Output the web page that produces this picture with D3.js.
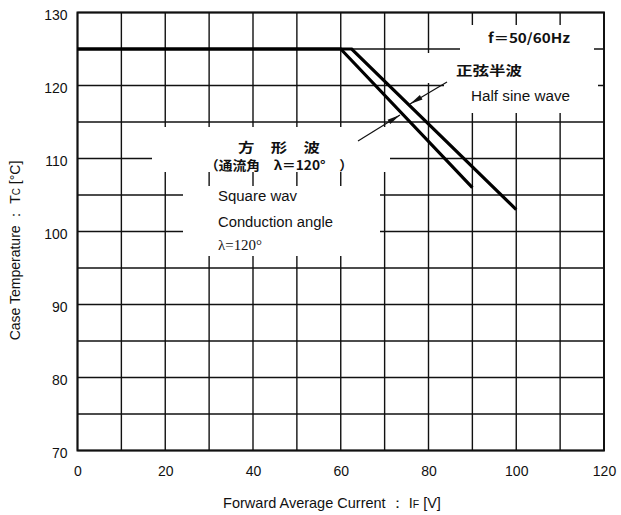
<!DOCTYPE html>
<html><head><meta charset="utf-8">
<script src="https://cdn.jsdelivr.net/npm/d3@7"></script>
<style>body{margin:0;background:#fff}svg{display:block}</style>
</head><body><svg id="c" width="621" height="515"></svg>
<script>
// ---- data ----
const xTickValues = [0, 20, 40, 60, 80, 100, 120];
const yTickValues = [70, 80, 90, 100, 110, 120, 130];
const xGridValues = [0, 10, 20, 30, 40, 50, 60, 70, 80, 90, 100, 110, 120];
const yGridValues = [70, 75, 80, 85, 90, 95, 100, 105, 110, 115, 120, 125, 130];
const squareCurrent = [0, 60, 90];
const squareTemp = [125, 125, 106];
const sineCurrent = [0, 62.5, 100];
const sineTemp = [125, 125, 103];

const svg = d3.select('#c');
const x = d3.scaleLinear().domain([0, 120]).range([77.5, 604]);
const y = d3.scaleLinear().domain([70, 130]).range([450.5, 12.5]);
const ink = '#111';
const sans = '"Liberation Sans", Arial, sans-serif';
const cjk = '"Noto Sans CJK JP", sans-serif';

// grid
const g = svg.append('g');
g.selectAll('.vg').data(xGridValues).join('line')
  .attr('x1', d => x(d)).attr('x2', d => x(d)).attr('y1', y(130)).attr('y2', y(70))
  .attr('stroke', ink).attr('stroke-width', 1.4);
g.selectAll('.hg').data(yGridValues).join('line')
  .attr('y1', d => y(d)).attr('y2', d => y(d)).attr('x1', x(0)).attr('x2', x(120))
  .attr('stroke', ink).attr('stroke-width', 1.4);

// white label boxes (cover grid)
const boxes = [
  [152, 127, 390, 172],
  [183, 186, 380, 256],
  [460, 25, 594, 53],
  [426, 53, 598, 83],
  [444, 83, 598, 113]
];
svg.append('g').selectAll('rect').data(boxes).join('rect')
  .attr('x', d => d[0]).attr('y', d => d[1])
  .attr('width', d => d[2] - d[0]).attr('height', d => d[3] - d[1])
  .attr('fill', '#fff');

// border
svg.append('rect').attr('x', x(0)).attr('y', y(130))
  .attr('width', x(120) - x(0)).attr('height', y(70) - y(130))
  .attr('fill', 'none').attr('stroke', ink).attr('stroke-width', 2);

// axes tick labels via d3 axes
const xAxis = svg.append('g').attr('transform', `translate(0,${y(70)})`)
  .call(d3.axisBottom(x).tickValues(xTickValues).tickSize(0).tickPadding(16));
xAxis.select('.domain').remove();
xAxis.selectAll('text').attr('font-family', sans).attr('font-size', 14).attr('fill', '#111');

const yAxis = svg.append('g').attr('transform', `translate(${x(0)},0)`)
  .call(d3.axisLeft(y).tickValues(yTickValues).tickSize(0).tickPadding(10));
yAxis.select('.domain').remove();
yAxis.selectAll('text').attr('font-family', sans).attr('font-size', 14).attr('fill', '#111').attr('dy', '0.5em');

// curves
const line = d3.line().x(d => x(d[0])).y(d => y(d[1]));
const squarePts = squareCurrent.map((c, i) => [c, squareTemp[i]]);
const sinePts = sineCurrent.map((c, i) => [c, sineTemp[i]]);
svg.append('path').attr('d', line(squarePts)).attr('fill', 'none')
  .attr('stroke', '#000').attr('stroke-width', 3.2);
svg.append('path').attr('d', line(sinePts)).attr('fill', 'none')
  .attr('stroke', '#000').attr('stroke-width', 3.2);

// arrows
function arrow(x1, y1, x2, y2) {
  svg.append('line').attr('x1', x1).attr('y1', y1).attr('x2', x2).attr('y2', y2)
    .attr('stroke', ink).attr('stroke-width', 1.2);
  const a = Math.atan2(y2 - y1, x2 - x1), L = 13, W = 2.6;
  const bx = x2 - L * Math.cos(a), by = y2 - L * Math.sin(a);
  const px = -Math.sin(a) * W, py = Math.cos(a) * W;
  svg.append('path').attr('d', `M${x2},${y2}L${bx + px},${by + py}L${bx - px},${by - py}Z`).attr('fill', ink);
}
arrow(447, 82, 410, 104);
arrow(358, 141, 400, 115);

// annotation texts
function txt(t, xx, yy, opts) {
  const e = svg.append('text').attr('x', xx).attr('y', yy).text(t)
    .attr('font-family', opts.ff || sans).attr('font-size', opts.fs || 14)
    .attr('fill', '#111');
  if (opts.fw) e.attr('font-weight', opts.fw);
  if (opts.tl) e.attr('textLength', opts.tl).attr('lengthAdjust', 'spacingAndGlyphs');
  if (opts.anchor) e.attr('text-anchor', opts.anchor);
  return e;
}
txt('f＝50/60Hz', 488, 43, {ff: cjk, fs: 13, fw: 700, tl: 82});
txt('正弦半波', 456, 75, {ff: cjk, fs: 13, fw: 700, tl: 66});
txt('Half sine wave', 471, 101, {fs: 14, tl: 99});
txt('方　形　波', 238, 152, {ff: cjk, fs: 13, fw: 700, tl: 82});
txt('（通流角　λ＝120°　）', 205, 170, {ff: cjk, fs: 13, fw: 700, tl: 148});
txt('Square wav', 218, 201, {fs: 14, tl: 79});
txt('Conduction angle', 218, 227, {fs: 14, tl: 115});
txt('λ=120°', 218, 250, {ff: '"Liberation Serif", serif', fs: 14, tl: 44});

// axis titles
const xt = svg.append('text').attr('x', 332).attr('y', 508).attr('text-anchor', 'middle')
  .attr('font-family', sans).attr('font-size', 14.5).attr('fill', '#111');
xt.append('tspan').text('Forward Average Current ：  I');
xt.append('tspan').text('F').attr('font-size', 10.5);
xt.append('tspan').text(' [V]');

const yt = svg.append('text').attr('transform', 'translate(20,250.5) rotate(-90)')
  .attr('text-anchor', 'middle').attr('font-family', sans).attr('font-size', 14).attr('fill', '#111');
yt.append('tspan').text('Case Temperature ：  T');
yt.append('tspan').text('C').attr('font-size', 10);
yt.append('tspan').text('  [°C]');
</script></body></html>
